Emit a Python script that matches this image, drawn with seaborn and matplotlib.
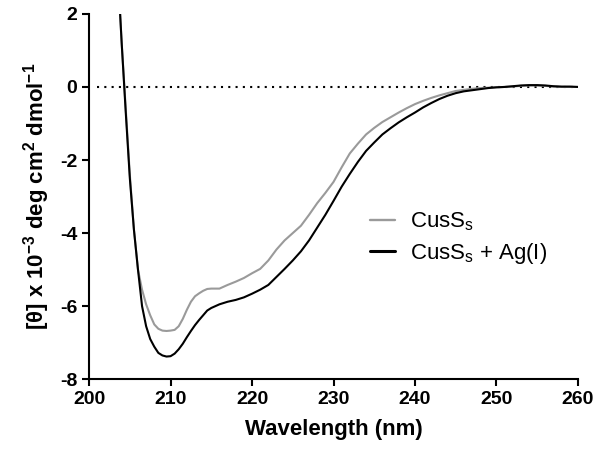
import numpy as np
import pandas as pd
import matplotlib
matplotlib.use("Agg")
import matplotlib.pyplot as plt
import seaborn as sns

# datos (longitud de onda en nm, elipticidad x 10^-3)
wavelength = [203.5, 204, 204.5, 205, 205.5, 206, 206.5, 207, 207.5, 208,
              208.5, 209, 209.5, 210, 210.5, 211, 211.5, 212, 212.5, 213,
              213.5, 214, 214.5, 215, 216, 217, 218, 219, 220, 221,
              222, 223, 224, 225, 226, 227, 228, 229, 230, 231,
              232, 233, 234, 235, 236, 237, 238, 239, 240, 241,
              242, 243, 244, 245, 246, 247, 248, 249, 250, 251,
              252, 253, 254, 255, 256, 257, 258, 259, 260]

cuss = [3.2, 1.2, -0.6, -2.4, -3.9, -5.0, -5.55, -5.95, -6.25, -6.5,
        -6.62, -6.67, -6.68, -6.67, -6.65, -6.55, -6.35, -6.1, -5.88, -5.73,
        -5.65, -5.58, -5.53, -5.52, -5.52, -5.42, -5.33, -5.23, -5.1, -4.98,
        -4.75, -4.45, -4.2, -4.0, -3.8, -3.5, -3.18, -2.9, -2.6, -2.2,
        -1.82, -1.55, -1.3, -1.12, -0.96, -0.83, -0.7, -0.58, -0.47, -0.38,
        -0.30, -0.23, -0.17, -0.11, -0.08, -0.05, -0.03, -0.02, -0.01, 0.0,
        0.01, 0.03, 0.04, 0.04, 0.03, 0.01, 0.0, 0.0, 0.0]

cuss_ag = [3.3, 1.2, -0.7, -2.5, -3.9, -5.0, -6.0, -6.55, -6.9, -7.11,
           -7.28, -7.35, -7.38, -7.37, -7.3, -7.18, -7.03, -6.85, -6.68, -6.52,
           -6.38, -6.25, -6.12, -6.05, -5.95, -5.88, -5.83, -5.76, -5.66, -5.55,
           -5.42, -5.2, -4.98, -4.75, -4.5, -4.2, -3.85, -3.5, -3.12, -2.73,
           -2.38, -2.05, -1.75, -1.52, -1.3, -1.13, -0.97, -0.83, -0.7, -0.56,
           -0.44, -0.33, -0.24, -0.17, -0.12, -0.09, -0.06, -0.03, -0.01, 0.0,
           0.02, 0.04, 0.05, 0.05, 0.04, 0.02, 0.01, 0.01, 0.0]

series_names = ["CusS$_s$", "CusS$_s$ + Ag(I)"]
x_ticks = [200, 210, 220, 230, 240, 250, 260]
y_ticks = [-8, -6, -4, -2, 0, 2]

df = pd.DataFrame({
    "wl": wavelength * 2,
    "theta": cuss + cuss_ag,
    "muestra": [series_names[0]] * len(wavelength) + [series_names[1]] * len(wavelength),
})

sns.set_style("ticks")
plt.rcParams["font.family"] = ["Liberation Sans", "DejaVu Sans"]
plt.rcParams["mathtext.default"] = "regular"
plt.rcParams["axes.unicode_minus"] = False
#   ^ guion normal en los numeros negativos, como en la original
for k in ["text.color", "axes.labelcolor", "xtick.color", "ytick.color", "axes.edgecolor"]:
    plt.rcParams[k] = "black"

fig = plt.figure(figsize=(6.02, 4.63), dpi=100)
ax = fig.add_axes([0.148, 0.181, 0.812, 0.789])

# linea punteada en cero
ax.hlines(0, 201, 260, colors="black", linewidth=1.5, linestyles=(0, (1, 2.5)))

sns.lineplot(data=df, x="wl", y="theta", hue="muestra",
             palette={series_names[0]: "#9a9a9a", series_names[1]: "black"},
             ax=ax, estimator=None, sort=False)
for ln, lw in zip(ax.get_lines()[-2:], [1.7, 2.2]):
    ln.set_linewidth(lw)

ax.set_xlim(200, 260)
ax.set_ylim(-8, 2)
ax.set_xticks(x_ticks)
ax.set_yticks(y_ticks)
ax.tick_params(axis="both", direction="out", length=5, width=1.5,
               labelsize=14, color="black", labelcolor="black")
for lab in ax.get_xticklabels() + ax.get_yticklabels():
    lab.set_fontweight("bold")
for sp in ["left", "bottom"]:
    ax.spines[sp].set_linewidth(1.5)
    ax.spines[sp].set_color("black")
sns.despine(ax=ax)

ax.set_xlabel("Wavelength (nm)", fontsize=16, fontweight="bold", labelpad=8)
ax.set_ylabel("[\u03b8] x 10$^{-3}$ deg cm$^{2}$ dmol$^{-1}$",
              fontsize=16, fontweight="bold", labelpad=6)

leg = ax.legend(loc="center left", bbox_to_anchor=(0.575, 0.386), frameon=False,
                fontsize=16, handlelength=1.1, handletextpad=0.7,
                labelspacing=0.35, borderpad=0, borderaxespad=0)
for h, lw in zip(leg.get_lines(), [1.7, 2.2]):
    h.set_linewidth(lw)

fig.savefig("out.png", dpi=100)
